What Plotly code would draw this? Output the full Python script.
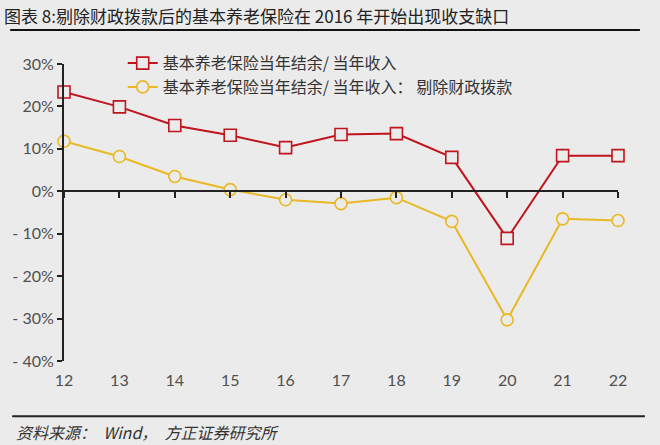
import plotly.graph_objects as go

years = [12, 13, 14, 15, 16, 17, 18, 19, 20, 21, 22]
balance_ratio = [23.4, 19.9, 15.5, 13.2, 10.3, 13.4, 13.6, 8.0, -11.1, 8.4, 8.4]
balance_ratio_ex_fiscal = [11.8, 8.2, 3.5, 0.4, -2.0, -2.9, -1.5, -7.1, -30.3, -6.5, -6.9]
series_names = ["基本养老保险当年结余/ 当年收入", "基本养老保险当年结余/ 当年收入： 剔除财政拨款"]
y_ticks = [30, 20, 10, 0, -10, -20, -30, -40]
y_labels = ["30%", "20%", "10%", "0%", "- 10%", "- 20%", "- 30%", "- 40%"]

BG = "#ebebeb"
RED = "#c0141e"
YEL = "#e9b823"
AXIS = "#222222"
LBL = "#505050"
LBL_FONT = "Lato, 'Open Sans', sans-serif"
CJK = "'Noto Sans CJK SC', sans-serif"

fig = go.Figure()
fig.add_trace(go.Scatter(
    x=years, y=balance_ratio, name=series_names[0], mode="lines+markers",
    line=dict(color=RED, width=2),
    marker=dict(symbol="square", size=12, color=BG, line=dict(color=RED, width=1.6)),
    cliponaxis=False,
))
fig.add_trace(go.Scatter(
    x=years, y=balance_ratio_ex_fiscal, name=series_names[1], mode="lines+markers",
    line=dict(color=YEL, width=2),
    marker=dict(symbol="circle", size=12, color=BG, line=dict(color=YEL, width=1.6)),
    cliponaxis=False,
))
# invisible trace to activate the zero-line axis with ticks
fig.add_trace(go.Scatter(x=years, y=[None] * len(years), xaxis="x2", showlegend=False,
                         hoverinfo="skip"))

ymin, ymax = -40, 30
zero_pos = (0 - ymin) / (ymax - ymin)

fig.update_layout(
    width=660, height=445,
    paper_bgcolor=BG, plot_bgcolor=BG,
    margin=dict(l=62, r=42, t=64, b=84),
    showlegend=True,
    legend=dict(x=0.106, y=1.06, xanchor="left", yanchor="top",
                bgcolor="rgba(0,0,0,0)", font=dict(family=CJK, size=16, color="#333333"),
                tracegroupgap=9, itemwidth=30),
    xaxis=dict(range=[12, 22], tickvals=years, ticktext=[str(y) for y in years],
               showgrid=False, zeroline=False, showline=False, ticks="",
               tickfont=dict(family=LBL_FONT, size=16, color=LBL), ticklabelstandoff=8),
    xaxis2=dict(range=[12, 22], tickvals=years, overlaying="x", anchor="free",
                position=zero_pos, side="bottom", showticklabels=False,
                showline=True, linecolor=AXIS, linewidth=2, ticks="outside",
                ticklen=6, tickwidth=1.5, tickcolor=AXIS, showgrid=False, zeroline=False),
    yaxis=dict(range=[ymin, ymax], tickvals=y_ticks, ticktext=y_labels,
               showgrid=False, zeroline=False, showline=True, linecolor=AXIS, linewidth=2,
               ticks="outside", ticklen=5, tickwidth=1.5, tickcolor=AXIS,
               tickfont=dict(family=LBL_FONT, size=16, color=LBL)),
)

fig.add_annotation(text="图表 8:剔除财政拨款后的基本养老保险在 2016 年开始出现收支缺口",
                   xref="paper", yref="paper", x=-62/556, y=(361-17)/296, xanchor="left",
                   yanchor="middle", showarrow=False,
                   font=dict(family=CJK, size=17, color="#222222"))
fig.add_shape(type="line", xref="paper", yref="paper", x0=-54/556, x1=(640-62)/556,
              y0=(361-31)/296, y1=(361-31)/296, line=dict(color="#111111", width=2))
fig.add_shape(type="line", xref="paper", yref="paper", x0=-52/556, x1=(645-62)/556,
              y0=(361-416)/296, y1=(361-416)/296, line=dict(color="#222222", width=2))
fig.add_annotation(text="<i>资料来源：  Wind，  方正证券研究所</i>",
                   xref="paper", yref="paper", x=-50/556, y=(361-432)/296, xanchor="left",
                   yanchor="middle", showarrow=False,
                   font=dict(family=CJK, size=16, color="#333333"))

fig.write_html("out.html")
